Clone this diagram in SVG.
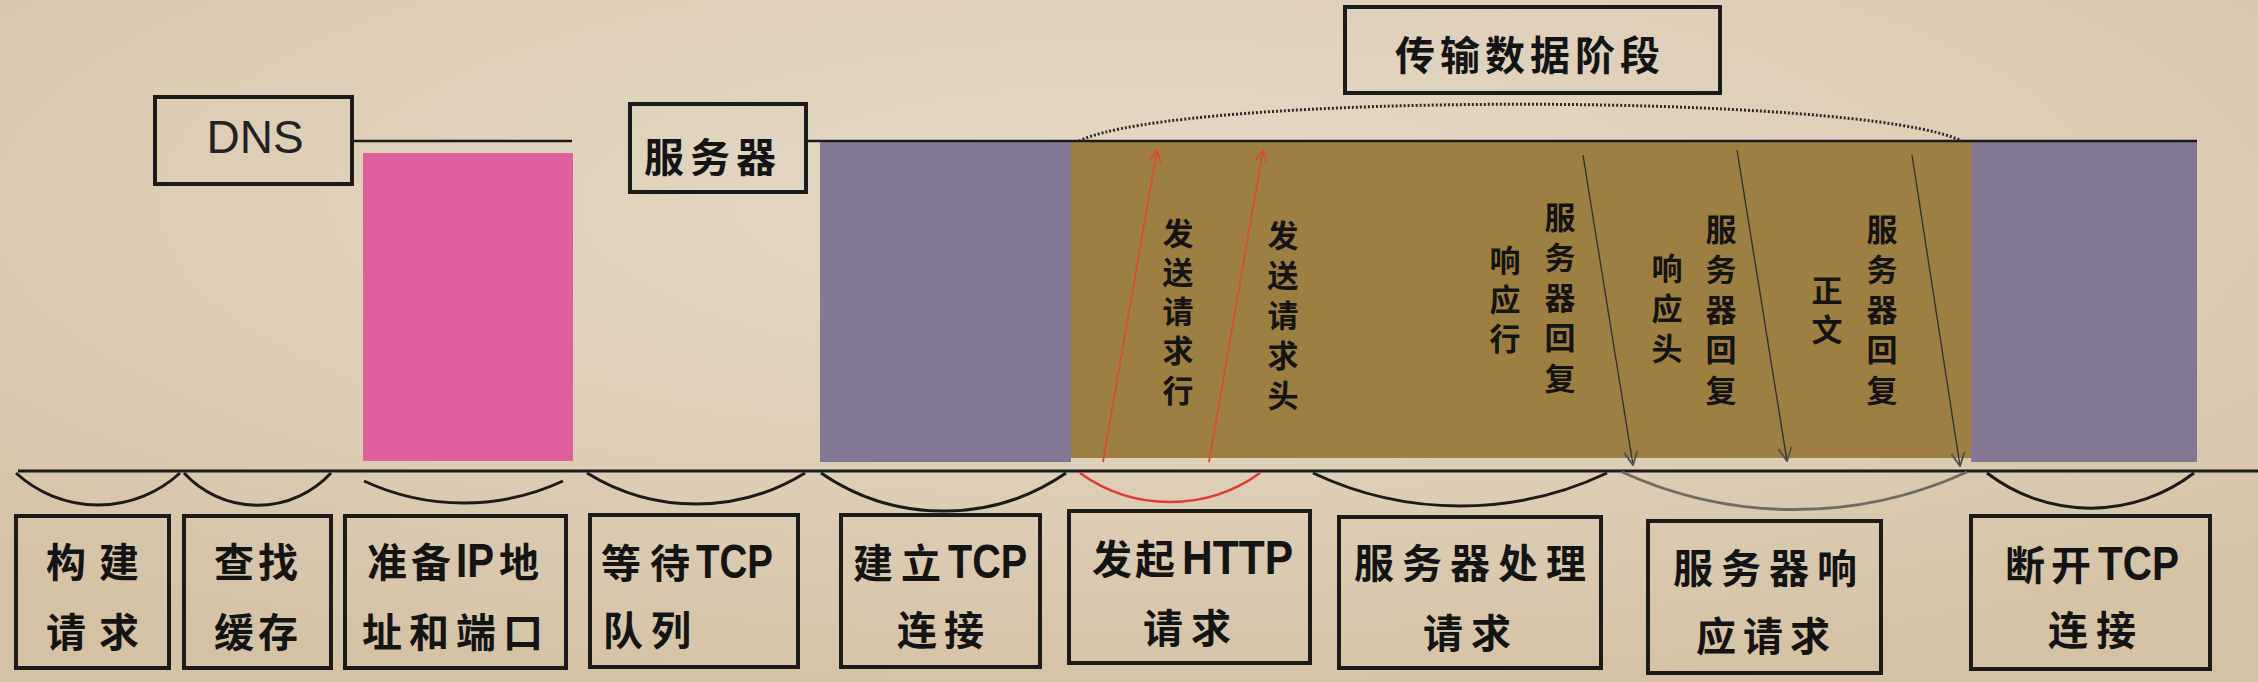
<svg xmlns="http://www.w3.org/2000/svg" width="2258" height="682" viewBox="0 0 2258 682">
<defs>
<radialGradient id="bg" cx="0.5" cy="0.3" r="0.75">
<stop offset="0" stop-color="#e5dac8"/>
<stop offset="0.6" stop-color="#dccdb5"/>
<stop offset="1" stop-color="#d4c2a4"/>
</radialGradient>
<marker id="ahRed" viewBox="0 0 12 12" refX="11" refY="6" markerWidth="14" markerHeight="14" markerUnits="userSpaceOnUse" orient="auto">
<path d="M1,1 L11,6 L1,11" fill="none" stroke="#d5502c" stroke-width="1.6"/>
</marker>
<marker id="ahDark" viewBox="0 0 12 12" refX="11" refY="6" markerWidth="16" markerHeight="16" markerUnits="userSpaceOnUse" orient="auto">
<path d="M1,1 L11,6 L1,11" fill="none" stroke="#555" stroke-width="1.5"/>
</marker>
<style>
.box { fill: none; stroke: #1b1b1b; stroke-width: 4; }
.cjk { font-family: 'Noto Sans CJK SC', 'Noto Sans CJK JP', sans-serif; font-weight: 700; fill: #141414; font-size: 40px; }
.lat { font-family: 'Liberation Sans Narrow', 'Liberation Sans', 'DejaVu Sans', sans-serif; font-weight: 700; font-size: 48px; letter-spacing: 0; }
.vt { font-family: 'Noto Sans CJK SC', 'Noto Sans CJK JP', sans-serif; font-weight: 700; fill: #141414; font-size: 31px; text-anchor: middle; }
.arc { fill: none; stroke: #1b1b1b; stroke-width: 3; }
.line { stroke: #1b1b1b; stroke-width: 2.5; fill: none; }
.upArrow { stroke: #d5502c; stroke-width: 1.8; fill: none; marker-end: url(#ahRed); }
.downArrow { stroke: #333; stroke-width: 1.4; fill: none; marker-end: url(#ahDark); }
</style>
</defs>

<rect x="0" y="0" width="2258" height="682" fill="url(#bg)"/>

<!-- bars -->
<g id="bar-dns-wait"><rect x="363" y="153" width="210" height="308" fill="#e0609e"/></g>
<g id="bar-tcp-connect"><rect x="820" y="141" width="251" height="321" fill="#837893"/></g>
<g id="bar-transfer"><rect x="1071" y="141" width="900" height="317" fill="#9d7f42"/></g>
<g id="bar-tcp-close"><rect x="1971" y="141" width="226" height="321" fill="#837893"/></g>

<!-- top nodes -->
<g id="dns">
<rect class="box" x="155" y="97" width="197" height="87"/>
<text x="255" y="153" text-anchor="middle" font-family="'Liberation Sans', sans-serif" font-size="46" fill="#222">DNS</text>
</g>
<g id="server">
<rect class="box" x="630" y="104" width="176" height="88"/>
<text class="cjk" x="644" y="172" font-size="44" letter-spacing="6">服务器</text>
</g>
<g id="transfer-title">
<rect class="box" x="1345" y="7" width="375" height="86"/>
<text class="cjk" x="1395" y="70" font-size="42" letter-spacing="5">传输数据阶段</text>
</g>

<!-- connectors -->
<g id="connectors">
<line class="line" x1="352" y1="141" x2="572" y2="141"/>
<line class="line" x1="806" y1="141" x2="2197" y2="141"/>
<path d="M1079,141 C1180,92 1860,92 1962,141" fill="none" stroke="#2a2a2a" stroke-width="3" stroke-dasharray="2 2"/>
<line x1="18" y1="471" x2="2258" y2="471" stroke="#1b1b1b" stroke-width="3"/>

<path class="arc" d="M16,473 A121,121 0 0 0 180,473"/>
<path class="arc" d="M184,473 A100,100 0 0 0 331,473"/>
<path class="arc" d="M364,481 A236,236 0 0 0 563,481"/>
<path class="arc" d="M587,473 A207,207 0 0 0 805,473"/>
<path class="arc" d="M821,473 A216,216 0 0 0 1066,473"/>
<path d="M1080,473 A154,154 0 0 0 1260,473" fill="none" stroke="#e03a35" stroke-width="2.6"/>
<path class="arc" d="M1313,473 A344,344 0 0 0 1607,473"/>
<path d="M1622,472 A415,415 0 0 0 1967,472" fill="none" stroke="#6f6c66" stroke-width="3"/>
<path class="arc" d="M1987,473 A170,170 0 0 0 2194,473"/>

<line class="upArrow" x1="1103" y1="462" x2="1157" y2="150"/>
<line class="upArrow" x1="1209" y1="462" x2="1263" y2="150"/>
<line class="downArrow" x1="1583" y1="155" x2="1633" y2="465"/>
<line class="downArrow" x1="1737" y1="150" x2="1787" y2="461"/>
<line class="downArrow" x1="1912" y1="155" x2="1960" y2="466"/>
</g>

<!-- vertical labels in transfer phase -->
<g id="label-send-request-line">
<text class="vt"><tspan x="1178" y="245">发</tspan><tspan x="1178" y="284">送</tspan><tspan x="1178" y="323">请</tspan><tspan x="1178" y="362">求</tspan><tspan x="1178" y="402">行</tspan></text>
</g>
<g id="label-send-request-header">
<text class="vt"><tspan x="1283" y="247">发</tspan><tspan x="1283" y="287">送</tspan><tspan x="1283" y="327">请</tspan><tspan x="1283" y="367">求</tspan><tspan x="1283" y="407">头</tspan></text>
</g>
<g id="label-response-line">
<text class="vt"><tspan x="1505" y="272">响</tspan><tspan x="1505" y="311">应</tspan><tspan x="1505" y="350">行</tspan></text>
</g>
<g id="label-server-reply-1">
<text class="vt"><tspan x="1560" y="229">服</tspan><tspan x="1560" y="269">务</tspan><tspan x="1560" y="309">器</tspan><tspan x="1560" y="349">回</tspan><tspan x="1560" y="390">复</tspan></text>
</g>
<g id="label-response-header">
<text class="vt"><tspan x="1667" y="280">响</tspan><tspan x="1667" y="320">应</tspan><tspan x="1667" y="360">头</tspan></text>
</g>
<g id="label-server-reply-2">
<text class="vt"><tspan x="1721" y="241">服</tspan><tspan x="1721" y="281">务</tspan><tspan x="1721" y="321">器</tspan><tspan x="1721" y="361">回</tspan><tspan x="1721" y="402">复</tspan></text>
</g>
<g id="label-body">
<text class="vt"><tspan x="1827" y="302">正</tspan><tspan x="1827" y="341">文</tspan></text>
</g>
<g id="label-server-reply-3">
<text class="vt"><tspan x="1882" y="241">服</tspan><tspan x="1882" y="281">务</tspan><tspan x="1882" y="321">器</tspan><tspan x="1882" y="361">回</tspan><tspan x="1882" y="402">复</tspan></text>
</g>

<!-- bottom step nodes -->
<g id="step-build-request">
<rect class="box" x="16" y="516" width="153" height="152"/>
<text class="cjk" x="46" y="577" letter-spacing="13">构建</text>
<text class="cjk" x="46" y="647" letter-spacing="13">请求</text>
</g>
<g id="step-find-cache">
<rect class="box" x="184" y="516" width="147" height="152"/>
<text class="cjk" x="214" y="577" letter-spacing="4">查找</text>
<text class="cjk" x="214" y="647" letter-spacing="4">缓存</text>
</g>
<g id="step-prepare-ip">
<rect class="box" x="345" y="516" width="221" height="152"/>
<text class="cjk" x="367" y="577" letter-spacing="4">准备<tspan class="lat" x="456" textLength="38" lengthAdjust="spacingAndGlyphs">IP</tspan><tspan x="499">地</tspan></text>
<text class="cjk" x="362" y="647" letter-spacing="7">址和端口</text>
</g>
<g id="step-wait-tcp">
<rect class="box" x="590" y="515" width="208" height="152"/>
<text class="cjk" x="601" y="578" letter-spacing="9">等待<tspan class="lat" x="696" textLength="77" lengthAdjust="spacingAndGlyphs">TCP</tspan></text>
<text class="cjk" x="603" y="645" letter-spacing="8">队列</text>
</g>
<g id="step-establish-tcp">
<rect class="box" x="841" y="515" width="199" height="152"/>
<text class="cjk" x="853" y="578" letter-spacing="8">建立<tspan class="lat" x="948" textLength="79" lengthAdjust="spacingAndGlyphs">TCP</tspan></text>
<text class="cjk" x="897" y="645" letter-spacing="7">连接</text>
</g>
<g id="step-send-http">
<rect class="box" x="1069" y="511" width="241" height="152"/>
<text class="cjk" x="1092" y="574" letter-spacing="3">发起<tspan class="lat" x="1182" textLength="111" lengthAdjust="spacingAndGlyphs">HTTP</tspan></text>
<text class="cjk" x="1143" y="643" letter-spacing="8">请求</text>
</g>
<g id="step-server-process">
<rect class="box" x="1339" y="517" width="262" height="151"/>
<text class="cjk" x="1354" y="578" letter-spacing="8">服务器处理</text>
<text class="cjk" x="1423" y="648" letter-spacing="8">请求</text>
</g>
<g id="step-server-respond">
<rect class="box" x="1648" y="521" width="233" height="152"/>
<text class="cjk" x="1673" y="583" letter-spacing="8">服务器响</text>
<text class="cjk" x="1696" y="651" letter-spacing="7">应请求</text>
</g>
<g id="step-close-tcp">
<rect class="box" x="1971" y="516" width="239" height="153"/>
<text class="cjk" x="2005" y="580" letter-spacing="6">断开<tspan class="lat" x="2098" textLength="81" lengthAdjust="spacingAndGlyphs">TCP</tspan></text>
<text class="cjk" x="2048" y="645" letter-spacing="8">连接</text>
</g>
</svg>
